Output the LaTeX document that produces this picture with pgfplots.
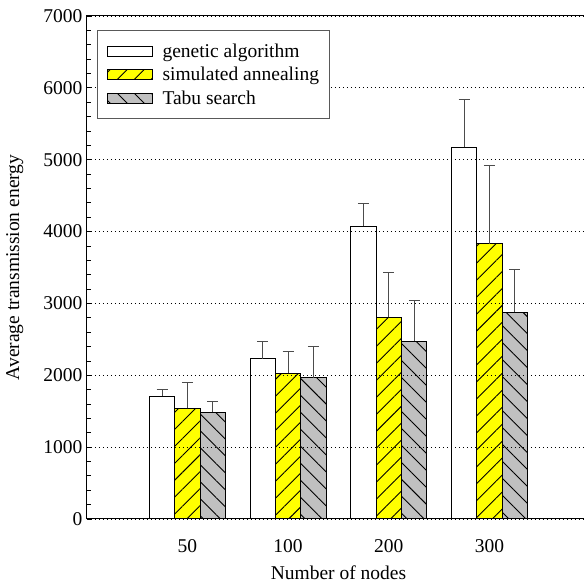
\documentclass[border=0pt]{standalone}
\usepackage{fontspec}
\setmainfont{Liberation Serif}
\usepackage{pgfplots}
\pgfplotsset{compat=1.18}
\usetikzlibrary{patterns.meta}
\definecolor{saYellow}{HTML}{FFFF00}
\definecolor{tsGray}{HTML}{C0C0C0}
\newcommand{\fs}{\fontsize{19.5}{23}\selectfont}
\begin{document}
\begin{tikzpicture}
\begin{axis}[
  scale only axis,
  width=503.3pt, height=503pt,
  xmin=0, xmax=5, ymin=0, ymax=7000,
  ybar=0pt, bar width=25.3pt,
  xtick={1,2,3,4}, xticklabels={50,100,200,300},
  xtick style={draw=none},
  ytick={0,1000,...,7000},
  minor y tick num=4,
  ytick pos=left,
  tick align=inside,
  major tick length=5pt, minor tick length=4pt,
  tick style={line width=0.8pt, black},
  ymajorgrids,
  grid style={line width=0.9pt, black, dash pattern=on 1pt off 3pt},
  axis on top,
  axis line style={line width=1pt, black},
  /pgf/number format/assume math mode=true,
  /pgf/number format/1000 sep={},
  scaled y ticks=false,
  ticklabel style={font=\fs},
  yticklabel style={xshift=-1pt},
  xticklabel style={yshift=-17pt},
  label style={font=\fs},
  xlabel={Number of nodes},
  ylabel={Average transmission energy},
  xlabel style={yshift=-6pt},
  ylabel style={yshift=13pt},
  legend cell align=left,
  legend style={at={(0,1)}, anchor=north west, xshift=10.2pt, yshift=-14pt,
    font=\fs, draw=gray!70!black, line width=1pt,
    inner xsep=9pt, inner ysep=9pt, row sep=0pt,
    nodes={inner xsep=1pt, inner ysep=0pt, minimum height=23.5pt}},
  legend image code/.code={\draw[#1] (0pt,-5pt) rectangle (45pt,5pt); \node[inner sep=0pt, minimum size=0pt, draw=none, fill=none] at (54pt,0pt) {};},
  error bars/y dir=plus,
  error bars/y explicit,
  error bars/error bar style={line width=1pt, gray!60!black},
  error bars/error mark options={rotate=90, mark size=5.5pt, line width=1pt, gray!60!black},
]
\addplot[fill=white, draw=black, line width=1pt] coordinates {
  (1,1710) +- (0,90)
  (2,2231) +- (0,242)
  (3,4077) +- (0,311)
  (4,5172) +- (0,659)
};
\addplot[fill=saYellow, draw=black, line width=1pt,
  postaction={pattern={Lines[angle=45,distance=12pt,line width=0.9pt]}, pattern color=black}] coordinates {
  (1,1540) +- (0,362)
  (2,2028) +- (0,305)
  (3,2807) +- (0,630)
  (4,3827) +- (0,1095)
};
\addplot[fill=tsGray, draw=black, line width=1pt,
  postaction={pattern={Lines[angle=-45,distance=12pt,line width=0.9pt]}, pattern color=black}] coordinates {
  (1,1489) +- (0,149)
  (2,1967) +- (0,431)
  (3,2477) +- (0,561)
  (4,2876) +- (0,599)
};
\legend{genetic algorithm, simulated annealing, Tabu search}
\end{axis}
\pgfresetboundingbox
\useasboundingbox ([xshift=-86.8pt,yshift=-68pt]current axis.south west) rectangle ([xshift=-7pt,yshift=16pt]current axis.north east);
\end{tikzpicture}
\end{document}
